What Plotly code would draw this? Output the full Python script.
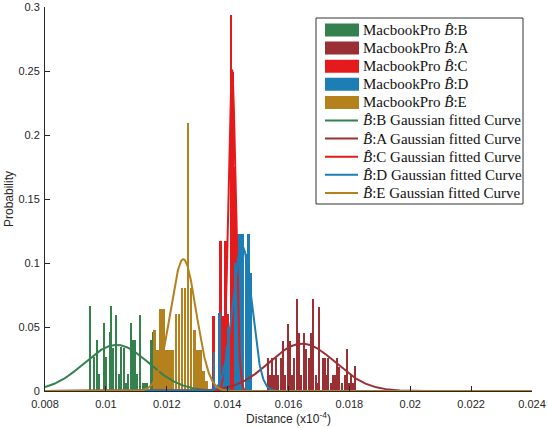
import numpy as np
import plotly.graph_objects as go

# ---------------- data ----------------
# MacbookPro B̂:B (green) histogram
b_x = [0.009488, 0.009610, 0.009731, 0.009797, 0.009948, 0.010014, 0.010136, 0.010191,
       0.010257, 0.010356, 0.010454, 0.010520, 0.010595, 0.010671, 0.010737, 0.010848,
       0.010914, 0.010980, 0.011046, 0.011131, 0.011243, 0.011308, 0.011374, 0.011506,
       0.011558]
b_p = [0.0664, 0.0268, 0.0398, 0.0133, 0.0529, 0.0268, 0.0464, 0.0664,
       0.0333, 0.0594, 0.0133, 0.0346, 0.0333, 0.0060, 0.0133, 0.0529,
       0.0398, 0.0398, 0.0133, 0.0594, 0.0060, 0.0060, 0.0060, 0.0398,
       0.0464]

# MacbookPro B̂:A (dark red) histogram
a_x = [0.015336, 0.015392, 0.015468, 0.015533, 0.015612, 0.015665, 0.015754, 0.015829,
       0.015885, 0.015993, 0.016072, 0.016138, 0.016191, 0.016302, 0.016355, 0.016434,
       0.016519, 0.016598, 0.016683, 0.016739, 0.016828, 0.016903, 0.016959, 0.017025,
       0.017133, 0.017199, 0.017265, 0.017321, 0.017419, 0.017485, 0.017551, 0.017616,
       0.017682, 0.017768, 0.017856, 0.017922, 0.018011, 0.018076, 0.018142, 0.018208]
a_p = [0.0255, 0.0125, 0.0255, 0.0125, 0.0255, 0.0125, 0.0255, 0.0390,
       0.0125, 0.0523, 0.0390, 0.0125, 0.0255, 0.0719, 0.0456, 0.0125,
       0.0456, 0.0326, 0.0255, 0.0456, 0.0719, 0.0125, 0.0060, 0.0654,
       0.0255, 0.0255, 0.0125, 0.0255, 0.0060, 0.0125, 0.0125, 0.0255,
       0.0190, 0.0060, 0.0125, 0.0326, 0.0060, 0.0125, 0.0060, 0.0195]

# MacbookPro B̂:C (red) histogram
c_x = [0.013542, 0.013772, 0.013871, 0.013937, 0.014012, 0.014111, 0.014167, 0.014232, 0.014298]
c_p = [0.0586, 0.1170, 0.0586, 0.1170, 0.0600, 0.2940, 0.2490, 0.1750, 0.0300]

# MacbookPro B̂:D (blue) histogram
d_x = [0.013546, 0.013726, 0.013866, 0.013948, 0.014030, 0.014240, 0.014324, 0.014407,
       0.014489, 0.014597, 0.014679, 0.014768]
d_p = [0.0307, 0.0607, 0.0200, 0.0350, 0.0500, 0.1000, 0.1227, 0.1227,
       0.1227, 0.1070, 0.1227, 0.0924]

# MacbookPro B̂:E (gold) histogram
e_x = [0.0116, 0.0117, 0.0118, 0.0119, 0.0120, 0.0121, 0.0122, 0.0123, 0.0124,
       0.0125, 0.0126, 0.0127, 0.0128, 0.0129, 0.0130, 0.0131, 0.0132, 0.0133]
e_p = [0.0477, 0.0320, 0.0640, 0.0640, 0.0320, 0.0320, 0.0320, 0.0600, 0.0600,
       0.0807, 0.0807, 0.2090, 0.0807, 0.0477, 0.0320, 0.0320, 0.0156, 0.0080]

# Gaussian fit parameters: mean, sigma, peak
fit_mu = [0.01035, 0.01645, 0.014144, 0.01448, 0.012544]
fit_sigma = [0.00106, 0.00108, 0.00012, 0.00031, 0.00042]
fit_peak = [0.036, 0.037, 0.251, 0.113, 0.103]

series_names = ["B", "A", "C", "D", "E"]
x_ticks = [0.008, 0.010, 0.012, 0.014, 0.016, 0.018, 0.020, 0.022, 0.024]
x_tick_labels = ["0.008", "0.01", "0.012", "0.014", "0.016", "0.018", "0.02", "0.022", "0.024"]
y_ticks = [0, 0.05, 0.10, 0.15, 0.20, 0.25, 0.30]
y_tick_labels = ["0", "0.05", "0.1", "0.15", "0.2", "0.25", "0.3"]

# ---------------- style ----------------
colors = ["#35804f", "#9a3034", "#e41a1c", "#1c7eb4", "#b5811c"]
bar_widths = [0.00005, 0.00005, 0.00006, 0.00008, 0.00009]
hist_x = [b_x, a_x, c_x, d_x, e_x]
hist_p = [b_p, a_p, c_p, d_p, e_p]

HAT = "B\u0302"
serif = "Liberation Serif"

W, H = 548, 428
ML, MR, MT, MB = 45, 16, 7, 37
PW, PH = W - ML - MR, H - MT - MB


def px(xp):
    return (xp - ML) / PW


def py(yp):
    return (H - MB - yp) / PH


fig = go.Figure()

# bars
for i in range(5):
    fig.add_trace(go.Bar(
        x=hist_x[i], y=hist_p[i], width=bar_widths[i],
        marker=dict(color=colors[i], line=dict(width=0)),
        name=f"MacbookPro {HAT}:{series_names[i]}",
        showlegend=False, hoverinfo="skip"))

# fitted curves
xs = np.linspace(x_ticks[0], x_ticks[-1], 1200)
for i in range(5):
    ys = fit_peak[i] * np.exp(-(xs - fit_mu[i]) ** 2 / (2 * fit_sigma[i] ** 2))
    fig.add_trace(go.Scatter(
        x=xs, y=ys, mode="lines", line=dict(color=colors[i], width=2),
        name=f"{HAT}:{series_names[i]} Gaussian fitted Curve",
        showlegend=False, hoverinfo="skip"))

# ---------------- legend (drawn manually to match row spacing) ----------------
shapes = [dict(type="rect", xref="paper", yref="paper",
               x0=px(316), x1=px(523), y0=py(204), y1=py(18),
               fillcolor="white", line=dict(color="#333333", width=1), layer="above")]
annotations = []
labels = ([f"MacbookPro <i>{HAT}</i>:{n}" for n in series_names] +
          [f"<i>{HAT}</i>:{n} Gaussian fitted Curve" for n in series_names])
for r in range(10):
    yc = 30 + 18.1 * r
    col = colors[r % 5]
    if r < 5:
        shapes.append(dict(type="rect", xref="paper", yref="paper",
                           x0=px(325), x1=px(359), y0=py(yc + 6.5), y1=py(yc - 6.5),
                           fillcolor=col, line=dict(width=0), layer="above"))
    else:
        shapes.append(dict(type="line", xref="paper", yref="paper",
                           x0=px(325), x1=px(358), y0=py(yc), y1=py(yc),
                           line=dict(color=col, width=2), layer="above"))
    annotations.append(dict(xref="paper", yref="paper", x=px(361), y=py(yc),
                            xanchor="left", yanchor="middle", showarrow=False,
                            text=labels[r], font=dict(family=serif, size=15, color="#111111")))

axis_col = "#262626"
fig.update_layout(
    width=W, height=H,
    margin=dict(l=ML, r=MR, t=MT, b=MB, autoexpand=False),
    paper_bgcolor="white", plot_bgcolor="white",
    barmode="overlay", bargap=0, showlegend=False,
    font=dict(family="Liberation Sans", size=11, color=axis_col),
    shapes=shapes, annotations=annotations,
    xaxis=dict(
        range=[x_ticks[0], x_ticks[-1]], tickvals=x_ticks, ticktext=x_tick_labels,
        showline=True, linecolor=axis_col, linewidth=1, ticks="inside", ticklen=5,
        tickcolor=axis_col, showgrid=False, zeroline=False, automargin=False,
        ticklabelstandoff=3,
        title=dict(text="Distance (x10<sup>-4</sup>)", font=dict(size=12), standoff=2)),
    yaxis=dict(
        range=[0, 0.3], tickvals=y_ticks, ticktext=y_tick_labels,
        showline=True, linecolor=axis_col, linewidth=1, ticks="inside", ticklen=5,
        tickcolor=axis_col, showgrid=False, zeroline=False, automargin=False,
        ticklabelstandoff=2,
        title=dict(text="Probability", font=dict(size=12), standoff=2)),
)

fig.write_html("out.html", config={"displayModeBar": False},
               post_script="document.body.style.margin='0';document.body.style.overflow='hidden';")
